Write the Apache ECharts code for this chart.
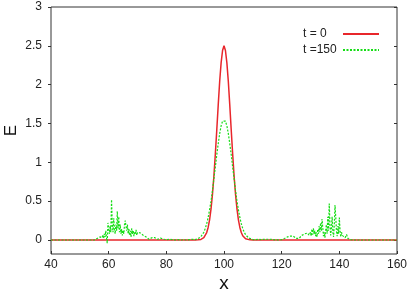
<!DOCTYPE html>
<html>
<head>
<meta charset="utf-8">
<script src="https://cdn.jsdelivr.net/npm/echarts@6/dist/echarts.min.js"></script>
<style>html,body{margin:0;padding:0;background:#fff}#c{width:409px;height:302px}</style>
</head>
<body>
<div id="c"></div>
<script>
const xTicks = [40, 60, 80, 100, 120, 140, 160];
const yTicks = [0, 0.5, 1, 1.5, 2, 2.5, 3];
const seriesNames = ['t = 0', 't =150'];

// t = 0 curve: [x, E]
const redPoints = [
  [40,0],[86,0],[90,0],[91,0.002],[92,0.008],[92.5,0.015],[93,0.03],[93.5,0.055],[94,0.096],[94.5,0.162],
  [95,0.26],[95.5,0.40],[96,0.588],[96.5,0.825],[97,1.11],[97.5,1.42],[98,1.74],[98.5,2.04],[99,2.28],[99.5,2.44],
  [100,2.5],[100.5,2.44],[101,2.28],[101.5,2.04],[102,1.74],[102.5,1.42],[103,1.11],[103.5,0.825],[104,0.588],
  [104.5,0.40],[105,0.26],[105.5,0.162],[106,0.096],[106.5,0.055],[107,0.03],[107.5,0.015],[108,0.008],[109,0.002],
  [110,0],[160,0]
];

// t = 150 curve, left scattered packet
const greenLeft = [
  [40,0],[55,0],[55.5,0.01],[56,0.02],[56.5,0.01],[57,0.04],[57.25,0.02],[57.5,0.06],[57.75,0.03],[58,0.07],
  [58.25,0.02],[58.5,0.08],[58.75,0.04],[59,0.12],[59.25,0.03],[59.5,-0.04],[59.75,0.22],[60,0.15],[60.25,0.08],
  [60.5,0.18],[60.75,0.1],[61,0.52],[61.25,0.2],[61.5,0.1],[61.75,0.28],[62,0.14],[62.25,0.08],[62.5,0.2],
  [62.75,0.12],[63,0.37],[63.25,0.15],[63.5,0.3],[63.75,0.1],[64,0.2],[64.25,0.08],[64.5,0.14],[64.75,0.06],
  [65,0.12],[65.25,0.08],[65.5,0.2],[65.75,0.25],[66,0.18],[66.25,0.12],[66.5,0.2],[66.75,0.08],[67,0.14],
  [67.25,0.06],[67.5,0.12],[67.75,0.04],[68,0.15],[68.25,0.08],[68.5,0.12],[68.75,0.05],[69,0.11],[69.25,0.07],
  [69.5,0.13],[69.75,0.06],[70,0.1],[70.5,0.08],[71,0.09],[71.5,0.07],[72,0.06],[72.5,0.05],[73,0.04],[73.5,0.02],
  [74,0.01],[74.5,0.02],[75,0.03],[75.5,0.04],[76,0.03],[76.5,0.02],[77,0.01],[77.5,0.02],[78,0.025],[78.5,0.02],
  [79,0.01],[80,0.005],[81,0.01],[82,0.005],[83,0],[84,0.005],[85,0],[86,0.005],[87,0],[88,0.005],[89,0.008]
];

// t = 150 curve, central pulse
const greenCenter = [
  [90,0.006],[91,0.017],[91.5,0.028],[92,0.044],[92.5,0.068],[93,0.10],[93.5,0.148],[94,0.21],[94.5,0.29],
  [95,0.39],[95.5,0.5],[96,0.64],[96.5,0.79],[97,0.94],[97.5,1.10],[98,1.24],[98.5,1.37],[99,1.47],[99.5,1.53],
  [100,1.55],[100.5,1.53],[101,1.47],[101.5,1.37],[102,1.24],[102.5,1.10],[103,0.94],[103.5,0.79],[104,0.64],
  [104.5,0.5],[105,0.39],[105.5,0.29],[106,0.21],[106.5,0.148],[107,0.10],[107.5,0.068],[108,0.044],[108.5,0.028],
  [109,0.017],[110,0.006]
];

// t = 150 curve, right scattered packet
const greenRight = [
  [111,0.005],[112,0.01],[113,0.005],[114,0.01],[116,0.01],[117,0.005],[118,0],[120,0.005],[121,0.02],[122,0.04],
  [123,0.05],[123.5,0.06],[124,0.05],[124.5,0.03],[125,0.02],[125.5,0.01],[126,0.02],[126.5,0.04],[127,0.06],
  [127.5,0.07],[128,0.08],[128.5,0.07],[129,0.09],[129.5,0.06],[130,0.1],[130.25,0.05],[130.5,0.14],[130.75,0.07],
  [131,0.15],[131.25,0.08],[131.5,0.12],[131.75,0.05],[132,0.1],[132.25,0.04],[132.5,0.14],[132.75,0.08],
  [133,0.18],[133.25,0.1],[133.5,0.22],[133.75,0.12],[134,0.27],[134.25,0.16],[134.5,0.05],[134.75,0.1],
  [135,0.03],[135.25,0.12],[135.5,0.2],[135.75,0.08],[136,0.3],[136.25,0.12],[136.5,0.47],[136.75,0.2],
  [137,0.06],[137.25,0.15],[137.5,0.3],[137.75,0.1],[138,0.04],[138.25,0.2],[138.5,0.45],[138.75,0.3],
  [139,0.12],[139.25,0.05],[139.5,0.18],[139.75,0.08],[140,0.29],[140.25,0.12],[140.5,0.04],[140.75,0.1],
  [141,0.06],[141.5,0.08],[142,0.03],[142.5,0.07],[143,0.02],[143.5,0.01],[144,0.005],[145,0],[160,0]
];

const FONT = '"Liberation Sans", Arial, Helvetica, sans-serif';
const chart = echarts.init(document.getElementById('c'), null, {renderer: 'canvas'});
const greenPoints = greenLeft.concat(greenCenter, greenRight);

chart.setOption({
  animation: false,
  backgroundColor: '#ffffff',
  textStyle: {fontFamily: FONT},
  grid: {left: 51, right: 12, top: 7, bottom: 48, show: true, borderColor: '#333', borderWidth: 1,
         containLabel: false, outerBoundsMode: 'none'},
  legend: {
    data: seriesNames,
    orient: 'vertical',
    left: 298,
    top: 23,
    align: 'right',
    itemWidth: 36,
    itemHeight: 6,
    itemGap: 4,
    itemStyle: {opacity: 0},
    formatter: '{a|{name}}',
    textStyle: {
      fontFamily: FONT, fontSize: 12, color: '#222',
      rich: {a: {width: 35, align: 'left', fontFamily: FONT, fontSize: 12, color: '#222'}}
    }
  },
  xAxis: {
    type: 'value', min: 40, max: 160, interval: 20,
    name: 'x', nameLocation: 'middle', nameGap: 20, nameMoveOverlap: false,
    nameTextStyle: {fontFamily: FONT, fontSize: 19, color: '#111'},
    axisLine: {show: false, onZero: false},
    axisTick: {show: true, inside: true, length: 3, lineStyle: {color: '#333'}},
    axisLabel: {fontFamily: FONT, fontSize: 12, color: '#222', margin: 5},
    splitLine: {show: false}
  },
  yAxis: [{
    type: 'value', min: -0.18, max: 3,
    name: 'E', nameLocation: 'middle', nameGap: 31, nameRotate: 90, nameMoveOverlap: false,
    nameTextStyle: {fontFamily: FONT, fontSize: 17, color: '#111'},
    axisLine: {show: false, onZero: false},
    axisTick: {show: true, inside: false, length: 3, customValues: yTicks, lineStyle: {color: '#333'}},
    axisLabel: {fontFamily: FONT, fontSize: 12, color: '#222', margin: 9, customValues: yTicks},
    splitLine: {show: false}
  }, {
    type: 'value', min: -0.18, max: 3, position: 'right',
    axisLine: {show: false, onZero: false},
    axisTick: {show: true, inside: true, length: 3, customValues: yTicks, lineStyle: {color: '#333'}},
    axisLabel: {show: false, customValues: yTicks},
    splitLine: {show: false}
  }],
  series: [{
    name: seriesNames[0], type: 'line', data: redPoints, symbol: 'none',
    lineStyle: {color: '#e8262b', width: 1.5},
    itemStyle: {color: '#e8262b'},
    z: 2
  }, {
    name: seriesNames[1], type: 'line', data: greenPoints, symbol: 'none',
    lineStyle: {color: '#16dd16', width: 1.2, type: [2, 1.5]},
    itemStyle: {color: '#16dd16'},
    z: 3
  }]
});
</script>
</body>
</html>
